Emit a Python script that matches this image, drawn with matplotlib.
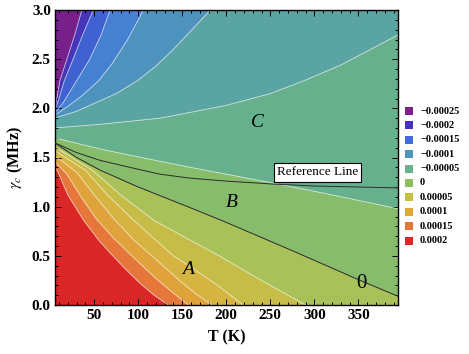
import matplotlib.pyplot as plt
from matplotlib.patches import Rectangle
from matplotlib.ticker import MultipleLocator, FormatStrFormatter

plt.rcParams['font.family'] = ['Liberation Serif', 'DejaVu Serif']
plt.rcParams['mathtext.fontset'] = 'stix'

# contour boundaries: T (K) and gamma_c (MHz)
# ordered from the most positive band (lower left) to the most negative (upper left)
red_orange_T = [5, 9, 20, 38, 55, 68, 85, 102, 118, 134]
red_orange_g = [1.40, 1.35, 1.12, 0.86, 0.66, 0.53, 0.37, 0.22, 0.10, 0.0]
orange_gold_T = [5, 19, 35, 52, 72, 95, 120, 140, 157]
orange_gold_g = [1.46, 1.33, 1.10, 0.88, 0.68, 0.48, 0.27, 0.12, 0.0]
gold_amber_T = [5, 30, 50, 72, 95, 118, 148, 166, 184]
gold_amber_g = [1.52, 1.35, 1.12, 0.88, 0.66, 0.48, 0.24, 0.11, 0.0]
amber_yellow_T = [5, 40, 65, 95, 120, 140, 159, 190, 219]
amber_yellow_g = [1.57, 1.37, 1.12, 0.86, 0.66, 0.50, 0.39, 0.20, 0.0]
yellow_olive_T = [5, 48, 80, 118, 159, 192, 230, 260, 290]
yellow_olive_g = [1.61, 1.37, 1.12, 0.86, 0.66, 0.50, 0.30, 0.15, 0.0]
zero_T = [5, 30, 57, 100, 159, 200, 273, 352, 400]
zero_g = [1.65, 1.50, 1.37, 1.20, 0.99, 0.84, 0.56, 0.25, 0.07]
b_c_T = [5, 60, 120, 159, 200, 253, 320, 400]
b_c_g = [1.70, 1.58, 1.47, 1.40, 1.33, 1.24, 1.12, 0.97]
c_teal_T = [5, 60, 125, 200, 250, 288, 330, 364, 400]
c_teal_g = [1.80, 1.84, 1.90, 2.03, 2.15, 2.28, 2.44, 2.60, 2.77]
teal_steel_T = [5, 30, 50, 75, 99, 120, 140, 160, 182]
teal_steel_g = [1.90, 1.97, 2.05, 2.15, 2.28, 2.43, 2.60, 2.79, 3.0]
steel_blue_T = [5, 20, 35, 55, 70, 88, 106]
steel_blue_g = [1.93, 2.02, 2.12, 2.28, 2.45, 2.70, 3.0]
blue_royal_T = [5, 15, 30, 45, 58, 68]
blue_royal_g = [1.95, 2.06, 2.28, 2.50, 2.75, 3.0]
royal_indigo_T = [5, 10, 16, 26, 37, 49]
royal_indigo_g = [1.97, 2.10, 2.28, 2.50, 2.75, 3.0]
indigo_purple_T = [5, 8, 11, 19, 28, 36]
indigo_purple_g = [1.99, 2.12, 2.28, 2.50, 2.75, 3.0]

# reference line
ref_T = [5, 30, 57, 100, 125, 159, 200, 253, 300, 350, 400]
ref_g = [1.65, 1.55, 1.47, 1.38, 1.33, 1.29, 1.26, 1.23, 1.21, 1.20, 1.19]

band_colors = ['#DA2627', '#E6773A', '#E0A33B', '#D6B441', '#C5BD47', '#A8C158',
               '#86BC6B', '#67B08E', '#5BA4A4', '#4E93BE', '#4680D0', '#3F62D0',
               '#4634BA', '#772089']

legend_labels = ['\u22120.00025', '\u22120.0002', '\u22120.00015', '\u22120.0001',
                 '\u22120.00005', '0', '0.00005', '0.0001', '0.00015', '0.0002']
legend_colors = ['#7B2188', '#4532C0', '#3F6FD6', '#4E96BA', '#66B08E',
                 '#8DBF60', '#C8BE42', '#E2A83C', '#E8783A', '#DC2828']

region_labels = ['A', 'B', 'C']
region_T = [156, 206, 235]
region_g = [0.36, 1.04, 1.86]

contours = [(red_orange_T, red_orange_g), (orange_gold_T, orange_gold_g),
            (gold_amber_T, gold_amber_g), (amber_yellow_T, amber_yellow_g),
            (yellow_olive_T, yellow_olive_g), (zero_T, zero_g), (b_c_T, b_c_g),
            (c_teal_T, c_teal_g), (teal_steel_T, teal_steel_g),
            (steel_blue_T, steel_blue_g), (blue_royal_T, blue_royal_g),
            (royal_indigo_T, royal_indigo_g), (indigo_purple_T, indigo_purple_g)]

T_MIN, T_MAX = 5.5, 395
G_MIN, G_MAX = 0, 3

fig = plt.figure(figsize=(4.69, 3.54), dpi=100)
ax = fig.add_axes([55 / 469, 1 - 305 / 354, 343 / 469, 295 / 354])
ax.set_xlim(T_MIN, T_MAX)
ax.set_ylim(G_MIN, G_MAX)
ax.set_facecolor(band_colors[0])

# paint each band on the negative side of its boundary, going round the frame
for (t, g), col in zip(contours, band_colors[1:]):
    if g[-1] <= G_MIN:
        corners = [(450, -1), (450, 4), (-50, 4)]
    elif t[-1] >= T_MAX:
        corners = [(450, 4), (-50, 4)]
    else:
        corners = [(-50, 4)]
    xs = list(t) + [c[0] for c in corners]
    ys = list(g) + [c[1] for c in corners]
    ax.fill(xs, ys, color=col, lw=0, zorder=1)

for t, g in contours:
    if t is zero_T:
        ax.plot(t, g, color='#2b2b2b', lw=0.7, zorder=3)
    else:
        ax.plot(t, g, color='white', lw=0.6, alpha=0.7, zorder=2)

ax.plot(ref_T, ref_g, color='#2b2b2b', lw=0.7, zorder=3)

for lab, t, g in zip(region_labels, region_T, region_g):
    ax.text(t, g, lab, fontsize=14, style='italic', ha='center', va='center', zorder=4)
ax.text(354, 0.22, '0', fontsize=15, ha='center', va='center', zorder=4)

ax.text(303.6, 1.35, 'Reference Line', fontsize=9.5, ha='center', va='center', zorder=5,
        bbox=dict(boxstyle='square,pad=0.25', fc='white', ec='black', lw=0.8))

ax.xaxis.set_major_locator(MultipleLocator(50))
ax.xaxis.set_minor_locator(MultipleLocator(10))
ax.yaxis.set_major_locator(MultipleLocator(0.5))
ax.yaxis.set_minor_locator(MultipleLocator(0.1))
ax.yaxis.set_major_formatter(FormatStrFormatter('%.1f'))
ax.tick_params(which='both', direction='in', top=True, right=True, width=0.7, colors='black')
ax.tick_params(which='major', length=4, labelsize=11, pad=3)
ax.tick_params(which='minor', length=2)
for lbl in ax.get_xticklabels() + ax.get_yticklabels():
    lbl.set_fontweight('bold')
for s in ax.spines.values():
    s.set_linewidth(1.0)

ax.set_xlabel('T (K)', fontsize=11.5, fontweight='bold', labelpad=5)
ax.set_ylabel(r'$\gamma_c$ (MHz)', fontsize=11.5, fontweight='bold', labelpad=5)

# legend swatches on the right
for i, (lab, col) in enumerate(zip(legend_labels, legend_colors)):
    y_px = 111 + i * 14.4
    fig.add_artist(Rectangle((405 / 469, 1 - (y_px + 4) / 354), 8 / 469, 8 / 354,
                             transform=fig.transFigure, fc=col, ec='none'))
    fig.text(420 / 469, 1 - y_px / 354, lab, va='center', ha='left',
             fontsize=7.5, fontweight='bold')

fig.savefig('out.png', dpi=100)
